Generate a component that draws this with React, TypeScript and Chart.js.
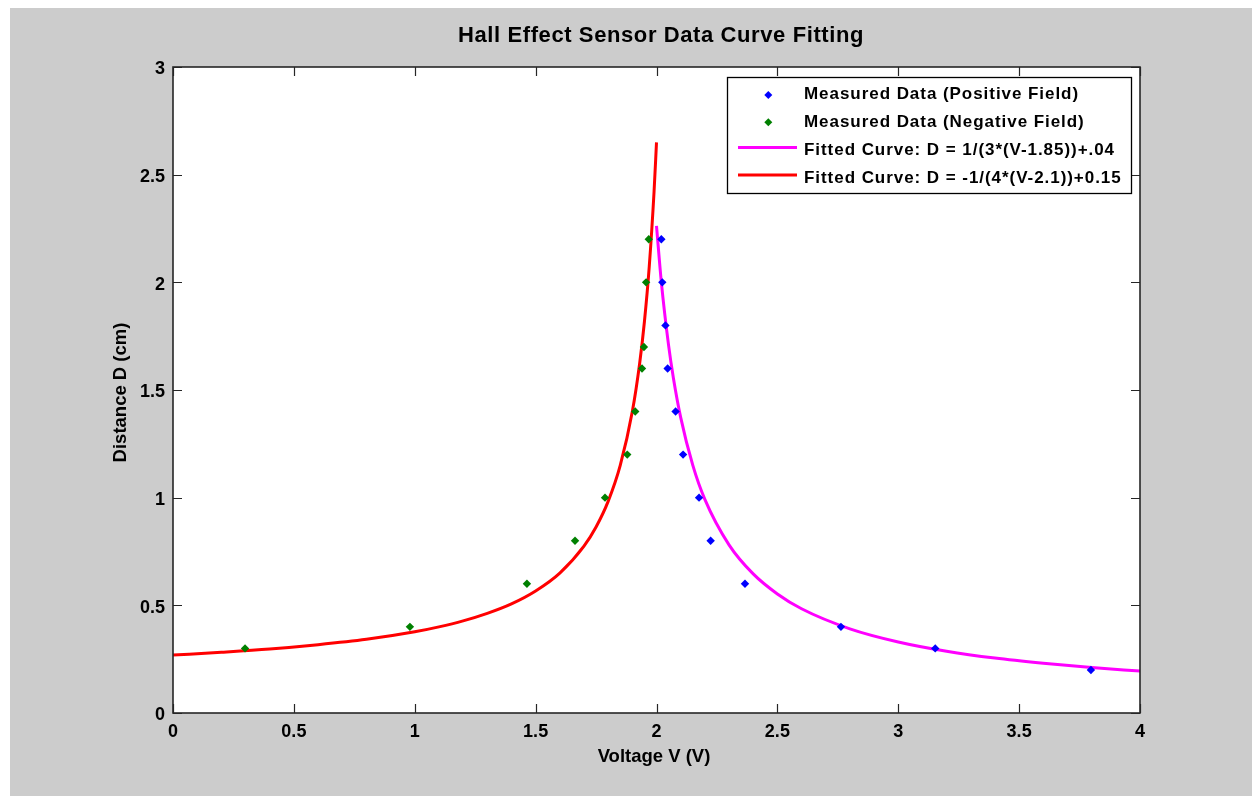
import { useEffect, useRef } from "react";
import { Chart, registerables } from "chart.js";

Chart.register(...registerables);

const TITLE = "Hall Effect Sensor Data Curve Fitting";
const X_LABEL = "Voltage V (V)";
const Y_LABEL = "Distance D (cm)";

const X_TICKS = [0, 0.5, 1, 1.5, 2, 2.5, 3, 3.5, 4];
const X_TICK_LABELS = ["0", "0.5", "1", "1.5", "2", "2.5", "3", "3.5", "4"];
const Y_TICKS = [0, 0.5, 1, 1.5, 2, 2.5, 3];
const Y_TICK_LABELS = ["0", "0.5", "1", "1.5", "2", "2.5", "3"];

const SERIES_LABELS = [
  "Measured Data (Positive Field)",
  "Measured Data (Negative Field)",
  "Fitted Curve: D = 1/(3*(V-1.85))+.04",
  "Fitted Curve: D = -1/(4*(V-2.1))+0.15",
];

// Measured data, positive field (blue)
const POS_V = [2.02, 2.024, 2.037, 2.046, 2.079, 2.11, 2.176, 2.224, 2.366, 2.763, 3.153, 3.797];
const POS_D = [2.2, 2.0, 1.8, 1.6, 1.4, 1.2, 1.0, 0.8, 0.6, 0.4, 0.3, 0.2];

// Measured data, negative field (green)
const NEG_V = [0.298, 0.98, 1.464, 1.663, 1.787, 1.879, 1.912, 1.94, 1.948, 1.957, 1.968];
const NEG_D = [0.3, 0.4, 0.6, 0.8, 1.0, 1.2, 1.4, 1.6, 1.7, 2.0, 2.2];

// Fitted curve (magenta)
const FIT_POS_V = [2.0, 2.02, 2.05, 2.07, 2.1, 2.15, 2.2, 2.3, 2.4, 2.5, 2.6, 2.8, 3.0, 3.2, 3.4, 3.6, 3.8, 4.0];
const FIT_POS_D = [2.262, 2.001, 1.707, 1.555, 1.373, 1.151, 0.992, 0.781, 0.646, 0.553, 0.484, 0.391, 0.33, 0.287, 0.255, 0.231, 0.211, 0.195];

// Fitted curve (red)
const FIT_NEG_V = [0, 0.2, 0.4, 0.6, 0.8, 1.0, 1.1, 1.2, 1.3, 1.4, 1.5, 1.6, 1.7, 1.75, 1.8, 1.85, 1.9, 1.93, 1.95, 1.97, 1.99, 2.0];
const FIT_NEG_D = [0.269, 0.282, 0.297, 0.317, 0.342, 0.377, 0.4, 0.428, 0.463, 0.507, 0.567, 0.65, 0.775, 0.864, 0.983, 1.15, 1.4, 1.621, 1.817, 2.073, 2.423, 2.65];

const FONT = '"Liberation Sans", Arial, Helvetica, sans-serif';

const pts = (xs: number[], ys: number[]) => xs.map((x, i) => ({ x, y: ys[i] }));

function drawDiamond(ctx: CanvasRenderingContext2D, x: number, y: number, r: number, color: string) {
  ctx.beginPath();
  ctx.moveTo(x, y - r);
  ctx.lineTo(x + r, y);
  ctx.lineTo(x, y + r);
  ctx.lineTo(x - r, y);
  ctx.closePath();
  ctx.fillStyle = color;
  ctx.fill();
}

const matlabPlugin = {
  id: "matlabLook",
  beforeDraw(chart: any) {
    const { ctx, width, height, chartArea: a } = chart;
    ctx.save();
    ctx.fillStyle = "#cccccc";
    ctx.fillRect(0, 0, width, height);
    ctx.fillStyle = "#ffffff";
    ctx.fillRect(a.left, a.top, a.right - a.left, a.bottom - a.top);
    ctx.restore();
  },
  afterDraw(chart: any) {
    const { ctx, chartArea: a, scales } = chart;
    const xs = scales.x;
    const ys = scales.y;
    ctx.save();

    // inward ticks on all four sides
    const TL = 9;
    ctx.beginPath();
    X_TICKS.forEach((v) => {
      const px = Math.round(xs.getPixelForValue(v)) + 0.5;
      ctx.moveTo(px, a.bottom);
      ctx.lineTo(px, a.bottom - TL);
      ctx.moveTo(px, a.top);
      ctx.lineTo(px, a.top + TL);
    });
    Y_TICKS.forEach((v) => {
      const py = Math.round(ys.getPixelForValue(v)) + 0.5;
      ctx.moveTo(a.left, py);
      ctx.lineTo(a.left + TL, py);
      ctx.moveTo(a.right, py);
      ctx.lineTo(a.right - TL, py);
    });
    ctx.strokeStyle = "#262626";
    ctx.lineWidth = 1.2;
    ctx.stroke();

    // frame
    ctx.lineWidth = 1.6;
    ctx.strokeStyle = "#262626";
    ctx.strokeRect(a.left, a.top, a.right - a.left, a.bottom - a.top);

    // tick labels
    ctx.fillStyle = "#000000";
    ctx.font = `bold 18px ${FONT}`;
    ctx.textAlign = "center";
    ctx.textBaseline = "alphabetic";
    X_TICKS.forEach((v, i) => {
      ctx.fillText(X_TICK_LABELS[i], xs.getPixelForValue(v), a.bottom + 23.5);
    });
    ctx.textAlign = "right";
    Y_TICKS.forEach((v, i) => {
      ctx.fillText(Y_TICK_LABELS[i], a.left - 8, ys.getPixelForValue(v) + 7.3);
    });

    // axis titles
    ctx.font = `bold 18.5px ${FONT}`;
    ctx.textAlign = "center";
    ctx.fillText(X_LABEL, 644, 754);
    ctx.save();
    ctx.translate(116, 384.5);
    ctx.rotate(-Math.PI / 2);
    ctx.fillText(Y_LABEL, 0, 0);
    ctx.restore();

    // title
    ctx.font = `bold 22px ${FONT}`;
    (ctx as any).letterSpacing = "0.6px";
    ctx.fillText(TITLE, 651, 34);
    (ctx as any).letterSpacing = "0px";

    // legend
    const L = { x: 717, y: 69.5, w: 404, h: 116 };
    ctx.fillStyle = "#ffffff";
    ctx.fillRect(L.x, L.y, L.w, L.h);
    ctx.strokeStyle = "#000000";
    ctx.lineWidth = 1.3;
    ctx.strokeRect(L.x + 0.5, L.y, L.w, L.h);
    const rowText = [86.5, 114.3, 142.5, 170.2];
    const rowMark = [87, 114.3, 139.5, 167];
    chart.data.datasets.forEach((ds: any, i: number) => {
      if (ds.showLine) {
        ctx.beginPath();
        ctx.moveTo(728, rowMark[i]);
        ctx.lineTo(787, rowMark[i]);
        ctx.strokeStyle = ds.borderColor;
        ctx.lineWidth = 3;
        ctx.stroke();
      } else {
        drawDiamond(ctx, 758.3, rowMark[i], 4, ds.backgroundColor);
      }
      ctx.fillStyle = "#000000";
      ctx.font = `bold 17px ${FONT}`;
      (ctx as any).letterSpacing = "0.95px";
      ctx.textAlign = "left";
      ctx.textBaseline = "middle";
      ctx.fillText(ds.label, 794, rowText[i]);
      (ctx as any).letterSpacing = "0px";
      ctx.textBaseline = "alphabetic";
    });

    ctx.restore();
  },
};

export default function App() {
  const ref = useRef<HTMLCanvasElement | null>(null);

  useEffect(() => {
    document.documentElement.style.overflow = "hidden";
    document.body.style.overflow = "hidden";
    const canvas = ref.current;
    if (!canvas) return;
    const chart = new Chart(canvas, {
      type: "scatter",
      data: {
        datasets: [
          {
            label: SERIES_LABELS[0],
            data: pts(POS_V, POS_D),
            showLine: false,
            pointStyle: "rectRot",
            pointRadius: 4.2,
            borderWidth: 0,
            backgroundColor: "#0000ff",
            borderColor: "#0000ff",
            order: 0,
          },
          {
            label: SERIES_LABELS[1],
            data: pts(NEG_V, NEG_D),
            showLine: false,
            pointStyle: "rectRot",
            pointRadius: 4.2,
            borderWidth: 0,
            backgroundColor: "#008000",
            borderColor: "#008000",
            order: 0,
          },
          {
            label: SERIES_LABELS[2],
            data: pts(FIT_POS_V, FIT_POS_D),
            showLine: true,
            borderColor: "#ff00ff",
            backgroundColor: "#ff00ff",
            borderWidth: 3,
            pointRadius: 0,
            cubicInterpolationMode: "monotone",
            order: 1,
          },
          {
            label: SERIES_LABELS[3],
            data: pts(FIT_NEG_V, FIT_NEG_D),
            showLine: true,
            borderColor: "#ff0000",
            backgroundColor: "#ff0000",
            borderWidth: 3,
            pointRadius: 0,
            cubicInterpolationMode: "monotone",
            order: 1,
          },
        ],
      },
      options: {
        animation: false,
        responsive: false,
        devicePixelRatio: 1,
        layout: { padding: { left: 163, top: 59, right: 112, bottom: 83 } },
        scales: {
          x: { type: "linear", min: 0, max: 4, display: false },
          y: { type: "linear", min: 0, max: 3, display: false },
        },
        plugins: {
          legend: { display: false },
          tooltip: { enabled: false },
          title: { display: false },
        },
        events: [],
      },
      plugins: [matlabPlugin],
    } as any);
    return () => chart.destroy();
  }, []);

  return (
    <div style={{ position: "fixed", left: 10, top: 8, width: 1242, height: 788 }}>
      <canvas ref={ref} width={1242} height={788} style={{ display: "block" }} />
    </div>
  );
}
